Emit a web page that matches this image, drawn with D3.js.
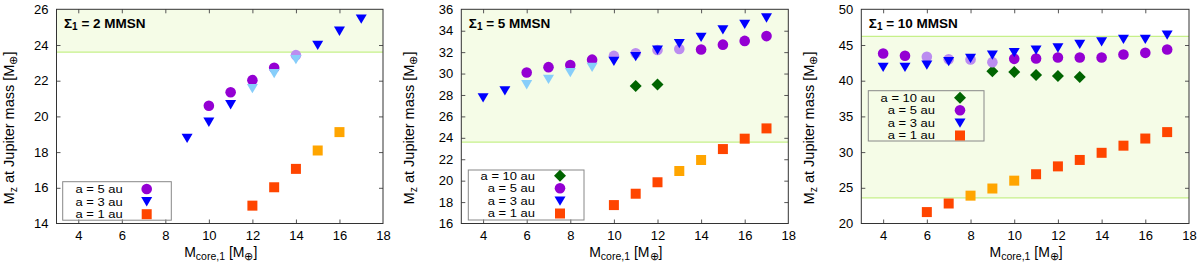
<!DOCTYPE html>
<html><head><meta charset="utf-8">
<script src="https://cdn.jsdelivr.net/npm/d3@7"></script>
<style>
body{margin:0;background:#fff}
svg{display:block}
text{font-family:"Liberation Sans",Arial,Helvetica,sans-serif;fill:#000}
</style>
</head><body>
<svg id="c" width="1200" height="267"></svg>
<script>
// ---------- data ----------
const xTicks = [4, 6, 8, 10, 12, 14, 16, 18];
const panelTitles = ["2", "5", "10"];
const p1_yTicks = [14, 16, 18, 20, 22, 24, 26];
const p2_yTicks = [16, 18, 20, 22, 24, 26, 28, 30, 32, 34, 36];
const p3_yTicks = [20, 25, 30, 35, 40, 45, 50];
const bandLimits = [[23.6, 26], [23.6, 36], [23.6, 46.2]];

// panel 1 (Σ1 = 2 MMSN)
const p1_a5_x = [10, 11, 12, 13, 14];
const p1_a5_y = [20.6, 21.35, 22.03, 22.72, 23.43];
const p1_a5_tone = [0, 0, 0, 0, 1];
const p1_a3_x = [9, 10, 11, 12, 13, 14, 15, 16, 17];
const p1_a3_y = [18.78, 19.68, 20.66, 21.56, 22.4, 23.19, 23.99, 24.78, 25.46];
const p1_a3_tone = [0, 0, 0, 1, 1, 1, 0, 0, 0];
const p1_a1_x = [12, 13, 14, 15, 16];
const p1_a1_y = [15.0, 16.03, 17.06, 18.09, 19.12];
const p1_a1_tone = [0, 0, 0, 1, 1];

// panel 2 (Σ1 = 5 MMSN)
const p2_a10_x = [11, 12];
const p2_a10_y = [28.83, 28.97];
const p2_a5_x = [6, 7, 8, 9, 10, 11, 12, 13, 14, 15, 16, 17];
const p2_a5_y = [30.1, 30.6, 30.8, 31.3, 31.65, 31.9, 32.2, 32.3, 32.25, 32.7, 33.05, 33.5];
const p2_a5_tone = [0, 0, 0, 0, 1, 1, 1, 1, 0, 0, 0, 0];
const p2_a3_x = [4, 5, 6, 7, 8, 9, 10, 11, 12, 13, 14, 15, 16, 17];
const p2_a3_y = [27.75, 28.4, 28.97, 29.47, 30.1, 30.6, 31.15, 31.6, 32.2, 32.8, 33.4, 34.1, 34.6, 35.2];
const p2_a3_tone = [0, 0, 1, 1, 1, 1, 0, 0, 0, 0, 0, 0, 0, 0];
const p2_a1_x = [10, 11, 12, 13, 14, 15, 16, 17];
const p2_a1_y = [17.72, 18.78, 19.85, 20.9, 21.93, 22.95, 23.92, 24.88];
const p2_a1_tone = [0, 0, 0, 1, 1, 0, 0, 0];

// panel 3 (Σ1 = 10 MMSN)
const p3_a10_x = [9, 10, 11, 12, 13];
const p3_a10_y = [41.33, 41.23, 40.8, 40.67, 40.53];
const p3_a5_x = [4, 5, 6, 7, 8, 9, 10, 11, 12, 13, 14, 15, 16, 17];
const p3_a5_y = [43.8, 43.5, 43.35, 43.0, 42.97, 42.6, 43.06, 43.1, 43.25, 43.25, 43.25, 43.67, 43.9, 44.37];
const p3_a5_tone = [0, 0, 1, 1, 1, 1, 0, 0, 0, 0, 0, 0, 0, 0];
const p3_a3_x = [4, 5, 6, 7, 8, 9, 10, 11, 12, 13, 14, 15, 16, 17];
const p3_a3_y = [41.9, 41.9, 42.2, 42.7, 43.15, 43.6, 43.95, 44.3, 44.6, 45.1, 45.45, 45.8, 45.8, 46.4];
const p3_a3_tone = [0, 0, 0, 0, 0, 0, 0, 0, 0, 0, 0, 0, 0, 0];
const p3_a1_x = [6, 7, 8, 9, 10, 11, 12, 13, 14, 15, 16, 17];
const p3_a1_y = [21.6, 22.8, 23.9, 24.9, 26.0, 26.9, 28.0, 28.9, 29.9, 30.9, 31.9, 32.8];
const p3_a1_tone = [0, 0, 1, 1, 1, 0, 0, 0, 0, 0, 0, 0];

const legendLabels = {a10: "a = 10 au", a5: "a = 5 au", a3: "a = 3 au", a1: "a = 1 au"};

// ---------- styles ----------
const colors = {
  a10: ["#006400", "#006400"],
  a5: ["#9400d3", "#bb8cf0"],
  a3: ["#0000ff", "#87cefa"],
  a1: ["#ff4500", "#ffa500"]
};
const shapes = {
  a10: "M0,-6L6,0L0,6L-6,0Z",
  a5: null,
  a3: "M-5.5,-4.5L5.5,-4.5L0,4.8Z",
  a1: "M-5,-5L5,-5L5,5L-5,5Z"
};

function mk(key, xs, ys, tones) {
  return {key, pts: xs.map((x, i) => ({x, y: ys[i], t: tones ? tones[i] : 0}))};
}

const panels = [
  {title: panelTitles[0], yDomain: [14, 26], yTicks: p1_yTicks, band: bandLimits[0], left: 56.5, right: 383,
   series: [mk("a5", p1_a5_x, p1_a5_y, p1_a5_tone), mk("a3", p1_a3_x, p1_a3_y, p1_a3_tone), mk("a1", p1_a1_x, p1_a1_y, p1_a1_tone)],
   legend: {x0: 62.7, y0: 181.7, w: 108.6, h: 38.5, rowY: 189, textX: 122.7, markX: 146.7}},
  {title: panelTitles[1], yDomain: [16, 36], yTicks: p2_yTicks, band: bandLimits[1], left: 461.3, right: 788.3,
   series: [mk("a10", p2_a10_x, p2_a10_y), mk("a5", p2_a5_x, p2_a5_y, p2_a5_tone), mk("a3", p2_a3_x, p2_a3_y, p2_a3_tone), mk("a1", p2_a1_x, p2_a1_y, p2_a1_tone)],
   legend: {x0: 468.3, y0: 170, w: 115.7, h: 50, rowY: 175.7, textX: 535, markX: 560}},
  {title: panelTitles[2], yDomain: [20, 50], yTicks: p3_yTicks, band: bandLimits[2], left: 861.3, right: 1189,
   series: [mk("a10", p3_a10_x, p3_a10_y), mk("a5", p3_a5_x, p3_a5_y, p3_a5_tone), mk("a3", p3_a3_x, p3_a3_y, p3_a3_tone), mk("a1", p3_a1_x, p3_a1_y, p3_a1_tone)],
   legend: {x0: 868.3, y0: 90.7, w: 115.7, h: 50.3, rowY: 97.7, textX: 935, markX: 960}}
];

const plotTop = 9.3, plotBottom = 223.5;
const svg = d3.select("#c");

function drawMarker(g, key, color) {
  if (key === "a5") {
    g.append("circle").attr("r", 5.3).attr("fill", color);
  } else {
    g.append("path").attr("d", shapes[key]).attr("fill", color);
  }
}

panels.forEach((p, pi) => {
  const x = d3.scaleLinear().domain([3, 18]).range([p.left, p.right]);
  const y = d3.scaleLinear().domain(p.yDomain).range([plotBottom, plotTop]);
  const g = svg.append("g");

  // band
  g.append("rect")
    .attr("x", p.left).attr("width", p.right - p.left)
    .attr("y", y(p.band[1])).attr("height", y(p.band[0]) - y(p.band[1]))
    .attr("fill", "#f5fce7");
  p.band.forEach(v => {
    if (v < p.yDomain[1]) {
      g.append("line").attr("x1", p.left).attr("x2", p.right)
        .attr("y1", y(v)).attr("y2", y(v))
        .attr("stroke", "#c6f08a").attr("stroke-width", 1.3);
    }
  });

  // points
  p.series.forEach(s => {
    s.pts.forEach(d => {
      const m = g.append("g").attr("transform", `translate(${x(d.x)},${y(d.y)})`);
      drawMarker(m, s.key, colors[s.key][d.t]);
    });
  });

  // axes
  const fs = "13px";
  const ax = g.append("g").attr("transform", `translate(0,${plotBottom})`)
    .call(d3.axisBottom(x).tickValues(xTicks).tickSizeInner(-4).tickSizeOuter(0).tickPadding(7.5));
  const axT = g.append("g").attr("transform", `translate(0,${plotTop})`)
    .call(d3.axisTop(x).tickValues(xTicks).tickSizeInner(-4).tickSizeOuter(0).tickFormat(""));
  const ayL = g.append("g").attr("transform", `translate(${p.left},0)`)
    .call(d3.axisLeft(y).tickValues(p.yTicks).tickSizeInner(-4).tickSizeOuter(0).tickPadding(8));
  const ayR = g.append("g").attr("transform", `translate(${p.right},0)`)
    .call(d3.axisRight(y).tickValues(p.yTicks).tickSizeInner(-4).tickSizeOuter(0).tickFormat(""));
  [ax, axT, ayL, ayR].forEach(a => {
    a.select(".domain").remove();
    a.selectAll(".tick line").attr("stroke", "#555");
    a.selectAll(".tick text").attr("font-size", fs).attr("font-family", '"Liberation Sans",Arial,sans-serif').attr("fill", "#000");
  });
  [ax, axT].forEach(a => a.selectAll(".tick").filter(d => d === 18).select("line").remove());
  [ayL, ayR].forEach(a => a.selectAll(".tick").filter(d => d === p.yDomain[0] || d === p.yDomain[1]).select("line").remove());

  // frame
  g.append("rect").attr("x", p.left).attr("y", plotTop)
    .attr("width", p.right - p.left).attr("height", plotBottom - plotTop)
    .attr("fill", "none").attr("stroke", "#333").attr("stroke-width", 1);

  // title
  const t = g.append("text").attr("x", p.left + 7.5).attr("y", 27.5)
    .attr("font-size", "13.5px").attr("font-weight", "bold");
  t.append("tspan").text("Σ");
  t.append("tspan").attr("font-size", "10px").attr("dy", "2").text("1");
  t.append("tspan").attr("dy", "-2").text(` = ${p.title} MMSN`);

  // x label
  const xl = g.append("text").attr("x", (p.left + p.right) / 2 + 1).attr("y", 256.5)
    .attr("text-anchor", "middle").attr("font-size", "14px");
  xl.append("tspan").text("M");
  xl.append("tspan").attr("font-size", "10.5px").attr("dy", "3").text("core,1");
  xl.append("tspan").attr("dy", "-3").text(" [M");
  xl.append("tspan").attr("font-size", "10.5px").attr("dy", "3").text("⊕");
  xl.append("tspan").attr("dy", "-3").text("]");

  // y label
  const yl = g.append("text")
    .attr("transform", `translate(${pi * 400 + 14},128) rotate(-90)`)
    .attr("text-anchor", "middle").attr("font-size", "14.5px");
  yl.append("tspan").text("M");
  yl.append("tspan").attr("font-size", "10.5px").attr("dy", "3").text("z");
  yl.append("tspan").attr("dy", "-3").text(" at Jupiter mass [M");
  yl.append("tspan").attr("font-size", "10.5px").attr("dy", "3").text("⊕");
  yl.append("tspan").attr("dy", "-3").text("]");

  // legend
  const L = p.legend;
  g.append("rect").attr("x", L.x0).attr("y", L.y0).attr("width", L.w).attr("height", L.h)
    .attr("fill", "none").attr("stroke", "#888").attr("stroke-width", 1);
  p.series.forEach((s, i) => {
    const ry = L.rowY + i * 12.6;
    const lt = g.append("text").attr("x", L.textX).attr("y", ry).attr("dy", "0.37em")
      .attr("text-anchor", "end").attr("font-size", "10.8px").text(legendLabels[s.key]);
    const w = lt.node().getComputedTextLength();
    lt.attr("textLength", w * 1.2).attr("lengthAdjust", "spacingAndGlyphs");
    const m = g.append("g").attr("transform", `translate(${L.markX},${ry})`);
    drawMarker(m, s.key, colors[s.key][0]);
  });
});
</script>
</body></html>
